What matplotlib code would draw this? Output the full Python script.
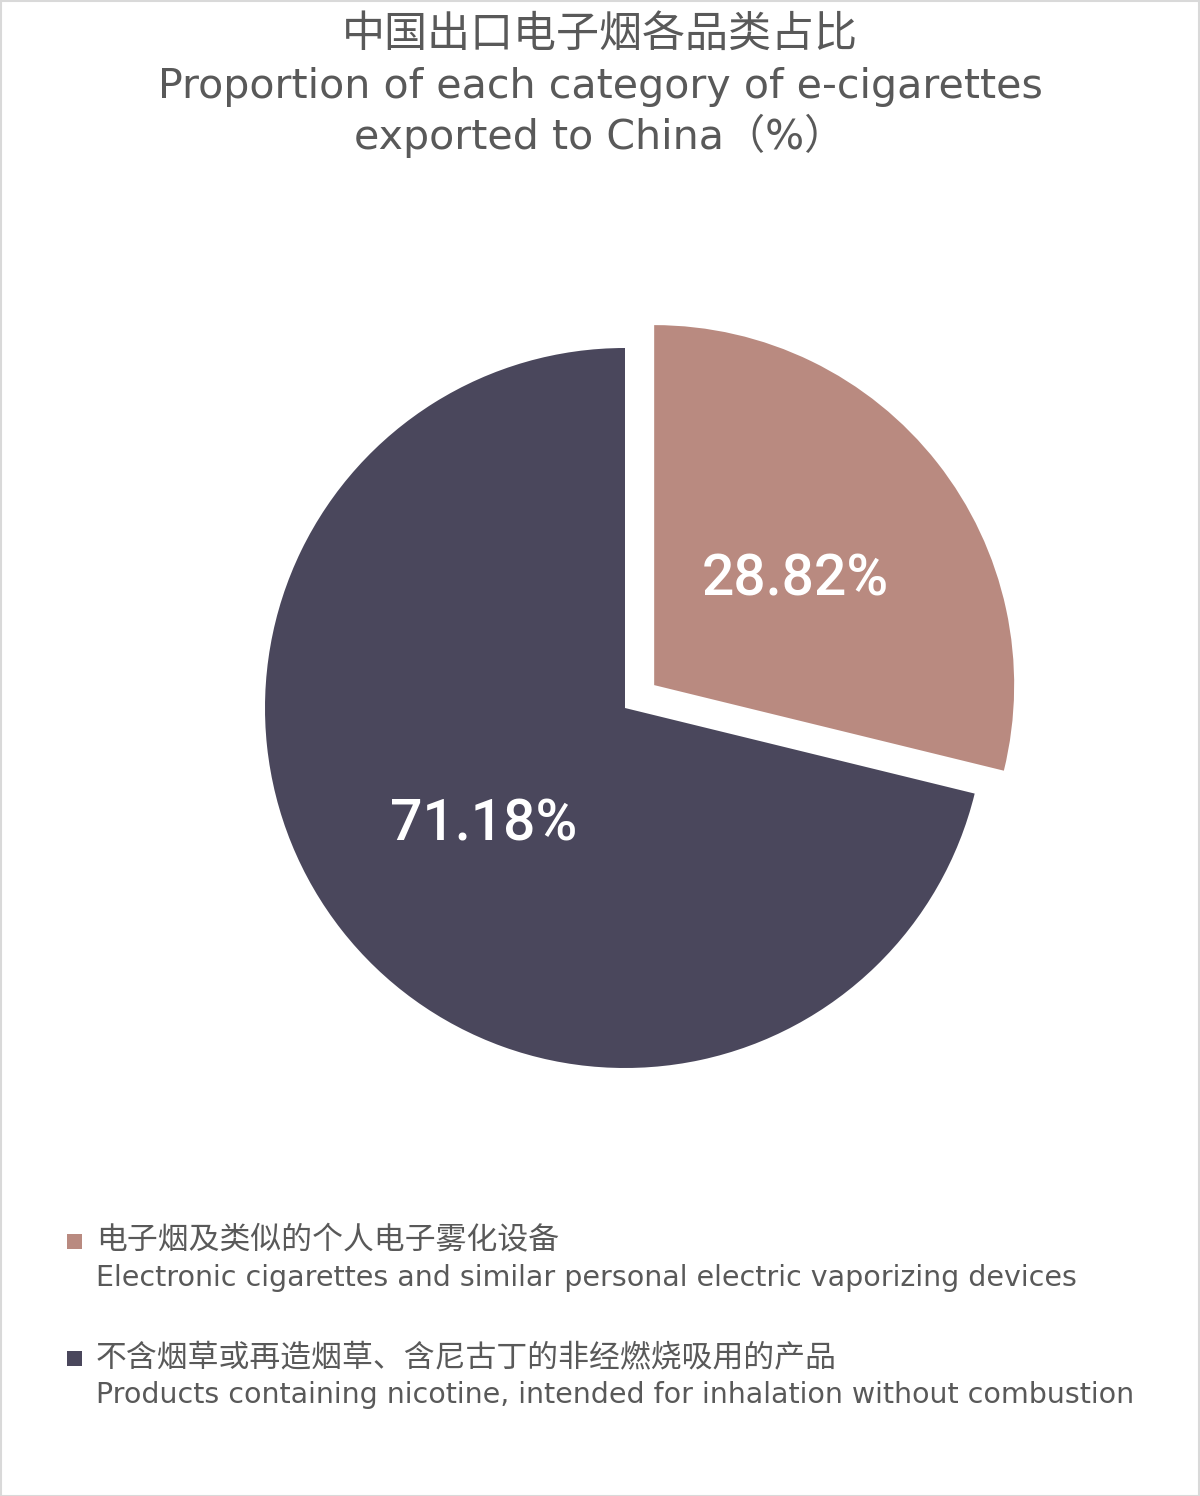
import matplotlib
matplotlib.use("Agg")
import matplotlib.pyplot as plt
import matplotlib.patches as mpatches

plt.rcParams['font.family'] = ['Noto Sans CJK SC', 'DejaVu Sans']

# данные
categories_cn = ["电子烟及类似的个人电子雾化设备",
                 "不含烟草或再造烟草、含尼古丁的非经燃烧吸用的产品"]
categories_en = ["Electronic cigarettes and similar personal electric vaporizing devices",
                 "Products containing nicotine, intended for inhalation without combustion"]
shares = [28.82, 71.18]
colors = ["#B98A80", "#4A475C"]
explode = [0.103, 0]

W, H = 1200, 1496
fig = plt.figure(figsize=(W / 100, H / 100), dpi=100)
fig.patch.set_facecolor("white")

latin = ['DejaVu Sans', 'Noto Sans CJK SC']

# рамка
fig.patches.append(mpatches.Rectangle((0.5 / W, 0.5 / H), 1 - 1.5 / W, 1 - 1.5 / H,
                                      transform=fig.transFigure, fill=False,
                                      edgecolor="#d9d9d9", linewidth=1.5))

# пирог: центр (625, 708), радиус 360 px
cx, cy, r = 625, 708, 360
lim = 1.3
side = 2 * lim * r
ax = fig.add_axes([(cx - side / 2) / W, (H - cy - side / 2) / H, side / W, side / H])
wedges, texts, autotexts = ax.pie(shares, colors=colors, explode=explode,
                                  startangle=90, counterclock=False,
                                  autopct="%.2f%%", pctdistance=0.5,
                                  wedgeprops={"linewidth": 0})
for t in autotexts:
    t.set_color("white")
    t.set_fontsize(41)
    t.set_family("Roboto")
    t.set_fontweight("medium")
    t.set_va("center_baseline")
ax.set_xlim(-lim, lim)
ax.set_ylim(-lim, lim)
ax.set_aspect("equal")
ax.axis("off")

# заголовок
title_color = "#595959"
fig.text(0.5, 1 - 35 / H, "中国出口电子烟各品类占比", ha="center", va="center",
         fontsize=31, color=title_color)
fig.text(0.5, 1 - 87 / H, "Proportion of each category of e-cigarettes", ha="center",
         va="center", fontsize=29.6, color=title_color, family=latin)
fig.text(0.5, 1 - 136 / H, "exported to China（%）", ha="center", va="center",
         fontsize=29.6, color=title_color, family=latin)

# легенда
leg_y = [1241, 1358]
for cn, en, col, y in zip(categories_cn, categories_en, colors, leg_y):
    fig.patches.append(mpatches.Rectangle((67 / W, 1 - (y + 8) / H), 15 / W, 15 / H,
                                          transform=fig.transFigure, facecolor=col,
                                          edgecolor="none"))
    fig.text(96 / W, 1 - y / H, cn, ha="left", va="center", fontsize=22.2, color=title_color)
    fig.text(96 / W, 1 - (y + 37) / H, en, ha="left", va="center", fontsize=20.5,
             color=title_color, family=latin)

fig.savefig("out.png", dpi=100, facecolor="white")
